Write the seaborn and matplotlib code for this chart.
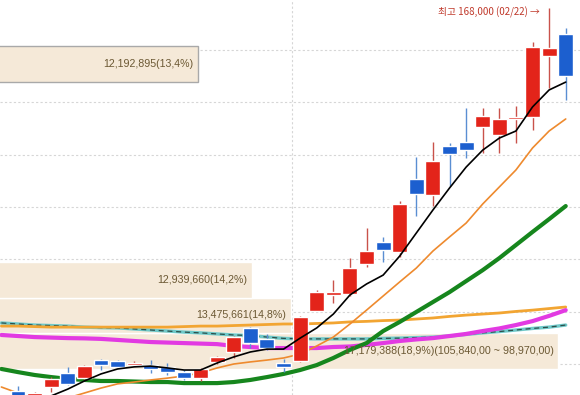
import numpy as np
import seaborn as sns
import matplotlib.pyplot as plt

# daily candles, oldest first (red = up, blue = down)
opens = [94850, 92750, 95600, 98300, 97300, 100750, 100550, 99800, 99800, 99450,
         98450, 97300, 100400, 102300, 106900, 104800, 100200, 100550, 110150, 113200,
         113400, 119100, 123350, 121400, 135350, 132300, 141700, 142450, 145300, 143800,
         146850, 147250, 158900, 163100]
closes = [93500, 94450, 97150, 96200, 99600, 99800, 99450, 100200, 99050, 98450,
          97300, 99050, 101350, 105150, 104000, 103050, 99450, 109000, 113750, 113750,
          118350, 121600, 121800, 130600, 132500, 138800, 140150, 140900, 147400, 146850,
          147250, 160600, 160400, 155050]
highs = [95800, 94650, 97500, 99450, 99800, 100950, 100750, 100550, 100750, 100200,
         98850, 99250, 101550, 105350, 107050, 105750, 100950, 109200, 114150, 116050,
         120250, 126000, 124300, 131150, 139600, 142450, 142250, 148950, 148950, 148950,
         149350, 161550, 168000, 164250]
lows = [93100, 92350, 94650, 96000, 97150, 98850, 99250, 99600, 98300, 97900,
        96950, 96750, 100000, 101150, 103050, 102700, 98450, 100400, 110050, 111650,
        113000, 118550, 119500, 120450, 128300, 130200, 134050, 139400, 140350, 140350,
        142250, 144750, 152750, 150500]

# moving averages, starting one day before the first candle
ma5 = [92750, 93900, 95200, 96750, 98100, 99050, 99450, 99600, 99250, 98850,
       98850, 100200, 101350, 102300, 102850, 102850, 104950, 106900, 109550, 113200,
       115300, 117000, 120650, 125050, 129450, 133650, 137650, 140900, 143200, 144550,
       149150, 152400, 153900]  # from day 1
ma20 = [95600, 94450, 93300, 92750, 93500, 94450, 95400, 96200, 96550, 96950,
        97300, 97700, 98300, 99250, 100000, 100400, 100750, 101150, 101900, 103450,
        105150, 107650, 110300, 113000, 115700, 118350, 121600, 124300, 126950, 130600,
        133850, 137100, 141300, 144550, 146850]
ma60 = [99050, 98450, 97900, 97500, 97150, 96950, 96750, 96750, 96650, 96550,
        96550, 96350, 96350, 96350, 96550, 96950, 97500, 98100, 98850, 99800,
        101150, 102700, 104000, 106300, 108050, 109950, 111850, 113750, 115850, 117950,
        120250, 122750, 125250, 127700, 130200]
ma120 = [107250, 107250, 107150, 107050, 107050, 107050, 107050, 107050, 107050, 107050,
         107050, 107150, 107250, 107250, 107350, 107450, 107550, 107650, 107650, 107750,
         107850, 108050, 108150, 108300, 108400, 108600, 108800, 109100, 109350, 109550,
         109750, 110050, 110300, 110600, 110900]
ma240 = [107850, 107650, 107450, 107350, 107250, 107050, 106950, 106900, 106700, 106500,
         106300, 106100, 105950, 105750, 105550, 105450, 105150, 104900, 104800, 104800,
         104800, 104800, 104800, 104900, 104950, 105050, 105150, 105350, 105650, 105950,
         106200, 106500, 106800, 107050, 107450]
ma_pink = [105550, 105350, 105150, 105050, 104950, 104900, 104800, 104600, 104400, 104200,
           104100, 104000, 103900, 103800, 103450, 103250, 103050, 103050, 103050, 103050,
           103250, 103350, 103650, 104000, 104400, 104700, 104950, 105350, 105750, 106300,
           106800, 107450, 108200, 109200, 110300]

# volume profile (price bins of 6,870 from 98,970)
vp_low = 98970
vp_step = 6870
vp_bins = [0, 1, 2, 8]
vp_volumes = [17179388, 13475661, 12939660, 12192895]
vp_pcts = [18.9, 14.8, 14.2, 13.4]

grid_prices = [100000, 110000, 120000, 130000, 140000, 150000, 160000]
month_break = 16.5
peak_label = '최고 168,000 (02/22) →'

sns.set_style('white')
plt.rcParams['font.family'] = ['Liberation Sans', 'DejaVu Sans']

fig, ax = plt.subplots(figsize=(5.8, 3.95), dpi=100)
ax.set_position([0, 0, 1, 1])

n = len(opens)
idx = np.arange(n)
ma_idx = np.arange(-1, n)

# grid
for p in grid_prices:
    ax.axhline(p, color='#d6d6d6', lw=0.8, ls=(0, (2, 2)), zorder=0)
ax.axvline(month_break, color='#d6d6d6', lw=0.8, ls=(0, (2, 2)), zorder=0)

# volume profile bars, anchored far left (off screen)
bar_left = -42.2
per_million = 4.35
for b, v, pct in zip(vp_bins, vp_volumes, vp_pcts):
    lo = vp_low + b * vp_step
    hi = lo + vp_step
    w = v / 1e6 * per_million
    edge = '#a9a9a9' if b == max(vp_bins) else 'white'
    ax.barh((lo + hi) / 2, w, left=bar_left, height=vp_step, color='#f5e9d8',
            edgecolor=edge, lw=1, zorder=1)
    label = f'{v:,}({pct:.1f}%)'.replace('.', ',')
    if b == 0:
        label += f'({hi:,},00 ~ {lo:,},00)'
    ax.annotate(label, (bar_left + w, (lo + hi) / 2), xytext=(-3, 0),
                textcoords='offset points', ha='right', va='center',
                fontsize=7.7, color='#6b5833', zorder=6)

# moving averages
sns.lineplot(x=ma_idx, y=ma240, ax=ax, color='#6fc9c9', lw=2.4, zorder=2)
sns.lineplot(x=ma_idx, y=ma240, ax=ax, color='#2c4f4a', lw=0.9, ls=(0, (4, 3)), zorder=2)
sns.lineplot(x=ma_idx, y=ma120, ax=ax, color='#f2a532', lw=2, zorder=2)
sns.lineplot(x=ma_idx, y=ma_pink, ax=ax, color='#e23ae2', lw=3, zorder=2)
sns.lineplot(x=ma_idx, y=ma60, ax=ax, color='#16861d', lw=3, zorder=2)
sns.lineplot(x=ma_idx, y=ma20, ax=ax, color='#ee8a2e', lw=1.2, zorder=2)

# candles
for i in idx:
    up = closes[i] >= opens[i]
    body = '#e3241a' if up else '#1c5fcf'
    wick = '#c9524b' if up else '#5a8ed2'
    ax.vlines(i, lows[i], highs[i], color=wick, lw=1, zorder=3)
    lo_b, hi_b = min(opens[i], closes[i]), max(opens[i], closes[i])
    ax.bar(i, max(hi_b - lo_b, 250), bottom=lo_b, width=0.9, color=body, zorder=4)

sns.lineplot(x=np.arange(1, n), y=ma5, ax=ax, color='black', lw=1.2, zorder=5)

# peak annotation
peak_i = int(np.argmax(highs))
ax.annotate(peak_label, (peak_i, highs[peak_i]), xytext=(-7, -3),
            textcoords='offset points', ha='right', va='center', fontsize=7,
            color='#c0392b', family=['Noto Sans CJK KR', 'DejaVu Sans'], zorder=6)

ax.set_xlim(-1.084, 33.86)
ax.set_ylim(94073, 169597)
ax.axis('off')
if ax.get_legend():
    ax.get_legend().remove()

fig.savefig('out.png', dpi=100)
